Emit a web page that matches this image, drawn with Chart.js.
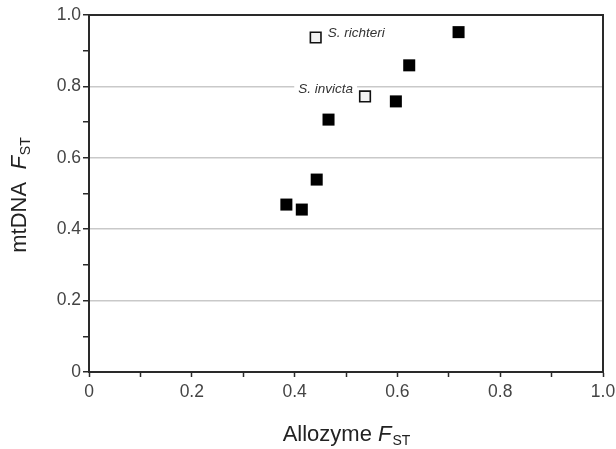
<!DOCTYPE html>
<html><head><meta charset="utf-8">
<script src="https://cdn.jsdelivr.net/npm/chart.js@4.4.0/dist/chart.umd.min.js"></script>
<style>html,body{margin:0;padding:0;background:#fff}#wrap{width:616px;height:449px}</style>
</head><body><div id="wrap"><canvas id="c" width="616" height="449"></canvas></div>
<script>
// Data (Allozyme FST, mtDNA FST)
const populationsX = [0.384, 0.414, 0.443, 0.466, 0.597, 0.623, 0.719];
const populationsY = [0.469, 0.455, 0.539, 0.707, 0.758, 0.859, 0.952];
const speciesNames = ["S. richteri", "S. invicta"];
const speciesX = [0.441, 0.537];
const speciesY = [0.937, 0.772];
const tickValues = [0, 0.2, 0.4, 0.6, 0.8, 1.0];
const xTitle = ["Allozyme ", "F", "ST"];
const yTitle = ["mtDNA  ", "F", "ST"];

const fmt = v => { const r = Math.round(v*10)/10; if (r === 0) return "0"; if (Math.abs(Math.round(r*10)) % 2 !== 0) return ""; return r.toFixed(1); };

const frame = {
  id: 'frame',
  afterDatasetsDraw(chart) {
    const {ctx, scales} = chart;
    ctx.save();
    ctx.font = 'italic 13.5px "Liberation Sans", Arial, sans-serif';
    ctx.textBaseline = 'middle';
    const offs = [{dx: 12, dy: -4, align: 'left'}, {dx: -12, dy: -7, align: 'right'}];
    speciesNames.forEach((n, i) => {
      const px = scales.x.getPixelForValue(speciesX[i]);
      const py = scales.y.getPixelForValue(speciesY[i]);
      const o = offs[i];
      const w = ctx.measureText(n).width;
      const x0 = o.align === 'left' ? px + o.dx : px + o.dx - w;
      ctx.fillStyle = '#fff';
      ctx.fillRect(x0 - 4, py + o.dy - 7, w + 8, 14);
      ctx.fillStyle = '#333';
      ctx.textAlign = 'left';
      ctx.fillText(n, x0, py + o.dy);
    });
    ctx.restore();
  },
  afterDraw(chart) {
    const {ctx, chartArea: a} = chart;
    ctx.save();
    ctx.strokeStyle = '#2a2a2a';
    ctx.lineWidth = 2;
    ctx.strokeRect(a.left, a.top, a.right - a.left, a.bottom - a.top);
    const drawTitle = (parts, cx, cy, rot) => {
      ctx.save();
      ctx.translate(cx, cy);
      ctx.rotate(rot);
      const f1 = '22px "Liberation Sans", Arial, sans-serif';
      const f2 = 'italic 22px "Liberation Sans", Arial, sans-serif';
      const f3 = '14px "Liberation Sans", Arial, sans-serif';
      ctx.font = f1; const w1 = ctx.measureText(parts[0]).width;
      ctx.font = f2; const w2 = ctx.measureText(parts[1]).width;
      ctx.font = f3; const w3 = ctx.measureText(parts[2]).width;
      let x = -(w1 + w2 + w3) / 2;
      ctx.fillStyle = '#222';
      ctx.textBaseline = 'alphabetic';
      ctx.textAlign = 'left';
      ctx.font = f1; ctx.fillText(parts[0], x, 8); x += w1;
      ctx.font = f2; ctx.fillText(parts[1], x, 8); x += w2 + 1;
      ctx.font = f3; ctx.fillText(parts[2], x, 12);
      ctx.restore();
    };
    drawTitle(xTitle, (a.left + a.right) / 2, 433, 0);
    drawTitle(yTitle, 18, (a.top + a.bottom) / 2 + 2, -Math.PI / 2);
    ctx.restore();
  }
};

new Chart(document.getElementById('c'), {
  type: 'scatter',
  data: {
    datasets: [
      {
        data: populationsX.map((x, i) => ({x, y: populationsY[i]})),
        pointStyle: 'rect', pointRadius: 8.5, pointHoverRadius: 8.5,
        backgroundColor: '#000', borderColor: '#000', borderWidth: 0
      },
      {
        data: speciesX.map((x, i) => ({x, y: speciesY[i]})),
        pointStyle: 'rect', pointRadius: 7.5, pointHoverRadius: 7.5,
        backgroundColor: '#f2f2f2', borderColor: '#111', borderWidth: 1.6
      }
    ]
  },
  options: {
    responsive: false, animation: false,
    layout: {padding: {left: 0, top: 15, right: 13, bottom: 0}},
    plugins: {legend: {display: false}, tooltip: {enabled: false}},
    scales: {
      x: {
        type: 'linear', min: 0, max: 1,
        afterFit: s => { s.height = 77; s.paddingRight = 0; s.paddingLeft = 0; },
        ticks: {stepSize: 0.1, autoSkip: false, maxRotation: 0, padding: 5, color: '#444',
          font: {family: '"Liberation Sans", Arial, sans-serif', size: 17.5}, callback: v => fmt(v)},
        grid: {color: 'rgba(0,0,0,0)', tickColor: '#2a2a2a', tickLength: 5, tickWidth: 1.5},
        border: {display: true, color: '#2a2a2a', width: 2}
      },
      y: {
        type: 'linear', min: 0, max: 1,
        afterFit: s => { s.width = 89; s.paddingTop = 0; s.paddingBottom = 0; },
        ticks: {stepSize: 0.1, autoSkip: false, padding: 2, color: '#444',
          font: {family: '"Liberation Sans", Arial, sans-serif', size: 17.5}, callback: v => fmt(v)},
        grid: {
          color: c => { const v = c.tick ? c.tick.value : 0; const k = Math.round(v*10); return (k > 0 && k < 10 && k % 2 === 0) ? '#c9c9c9' : 'rgba(0,0,0,0)'; },
          lineWidth: 1.5, tickColor: '#2a2a2a', tickLength: 6, tickWidth: 1.5
        },
        border: {display: true, color: '#2a2a2a', width: 2}
      }
    }
  },
  plugins: [frame]
});
</script></body></html>
